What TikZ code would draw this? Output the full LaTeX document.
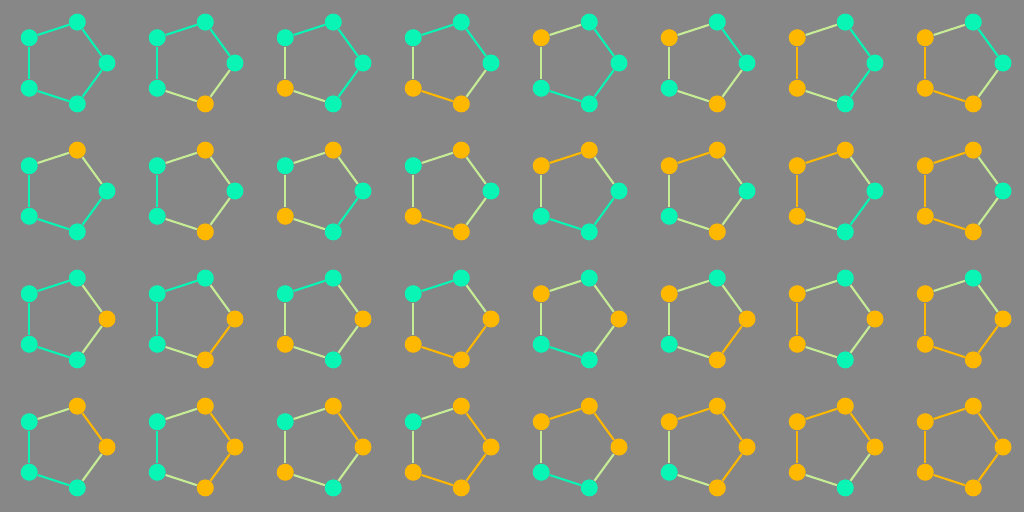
\documentclass[tikz,border=0pt]{standalone}
\usepackage{tikz}
\usetikzlibrary{calc}

\definecolor{bggray}{HTML}{878787}
\definecolor{tealc}{HTML}{08F5B6}
\definecolor{orngc}{HTML}{FFB800}
\definecolor{mixc}{HTML}{C6EC96}

\tikzset{
  vert0/.style={circle, fill=tealc, inner sep=0pt, minimum size=0.34cm},
  vert1/.style={circle, fill=orngc, inner sep=0pt, minimum size=0.34cm},
  edge0/.style={draw=tealc, line width=1.2pt},
  edge1/.style={draw=mixc, line width=1.2pt},
  edge2/.style={draw=orngc, line width=1.2pt}
}

\begin{document}
\begin{tikzpicture}

    % Background
    \fill[bggray] (0,0) rectangle (20.48,-10.24);
    \useasboundingbox (0,0) rectangle (20.48,-10.24);

    % One pentagon per 5-bit pattern
    \foreach \n in {0,...,31} {
        \pgfmathtruncatemacro\col{mod(\n,8)}
        \pgfmathtruncatemacro\row{floor(\n/8)}
        \coordinate (c\n) at ({1.28+2.56*\col},{-1.26-2.56*\row});

        % Vertices
        \foreach \k/\ang/\w in {0/288/1, 1/216/2, 2/144/4, 3/72/8, 4/0/16} {
            \pgfmathtruncatemacro\bit{mod(floor(\n/\w),2)}
            \node[vert\bit] (v\n-\k) at ($(c\n)+(\ang:0.86)$) {};
        }

        % Sides
        \foreach \a/\b/\wa/\wb in {0/1/1/2, 1/2/2/4, 2/3/4/8, 3/4/8/16, 4/0/16/1} {
            \pgfmathtruncatemacro\s{mod(floor(\n/\wa),2)+mod(floor(\n/\wb),2)}
            \path[edge\s] (v\n-\a) -- (v\n-\b);
        }
    }

\end{tikzpicture}
\end{document}
